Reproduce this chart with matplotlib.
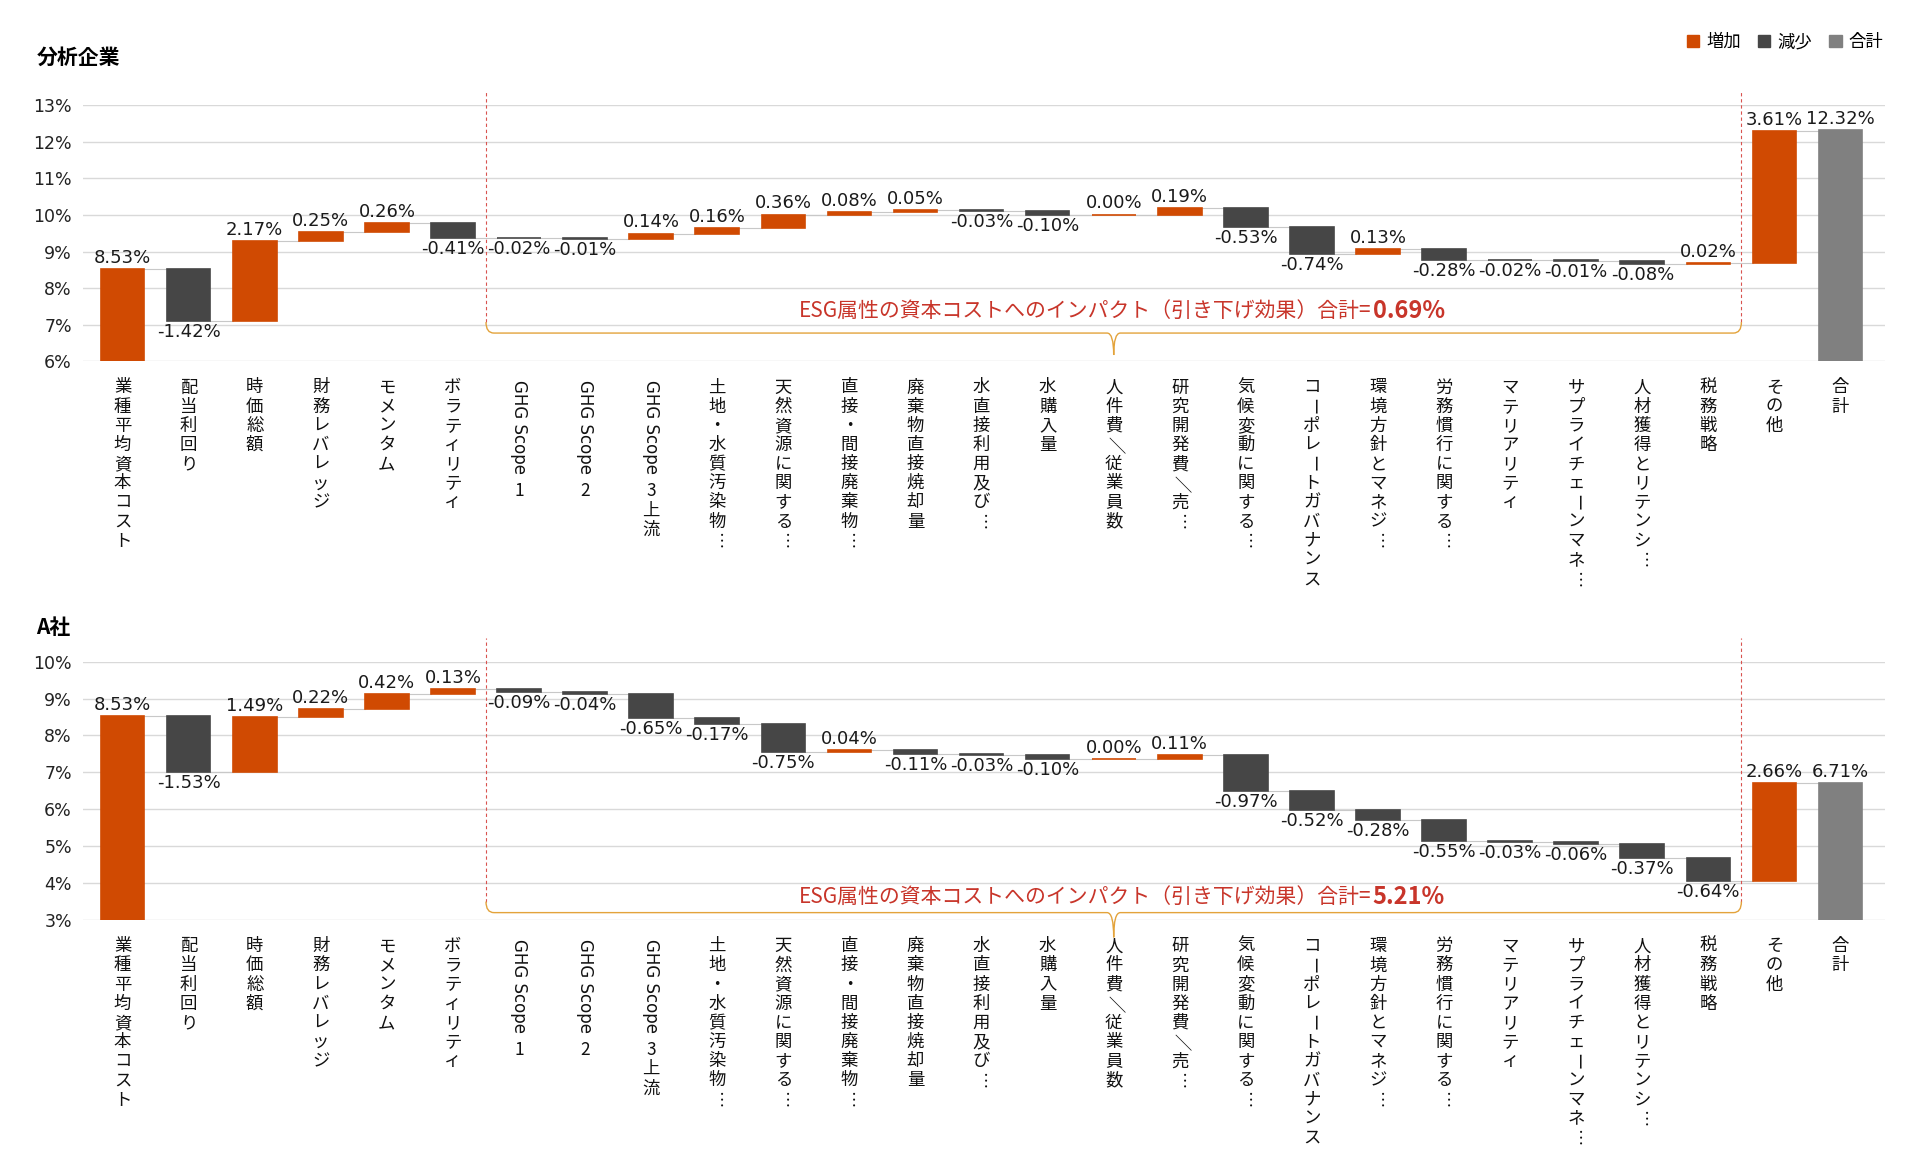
import re
import numpy as np
import matplotlib
matplotlib.use('Agg')
import matplotlib.pyplot as plt
from matplotlib.patches import Patch, PathPatch
from matplotlib.path import Path
from matplotlib.textpath import TextToPath
from matplotlib.font_manager import FontProperties

plt.rcParams['font.family'] = ['Noto Sans CJK JP', 'DejaVu Sans']
NUM_FONT = ['DejaVu Sans', 'Noto Sans CJK JP']

categories = ['業種平均資本コスト', '配当利回り', '時価総額', '財務レバレッジ', 'モメンタム',
              'ボラティリティ', 'GHG Scope 1', 'GHG Scope 2', 'GHG Scope 3上流',
              '土地・水質汚染物…', '天然資源に関する…', '直接・間接廃棄物…', '廃棄物直接焼却量',
              '水直接利用及び…', '水購入量', '人件費／従業員数', '研究開発費／売…',
              '気候変動に関する…', 'コーポレートガバナンス', '環境方針とマネジ…', '労務慣行に関する…',
              'マテリアリティ', 'サプライチェーンマネ…', '人材獲得とリテンシ…', '税務戦略',
              'その他', '合計']

# 分析企業
top_values = [8.53, -1.42, 2.17, 0.25, 0.26, -0.41, -0.02, -0.01, 0.14, 0.16, 0.36, 0.08,
              0.05, -0.03, -0.10, 0.00, 0.19, -0.53, -0.74, 0.13, -0.28, -0.02, -0.01,
              -0.08, 0.02, 3.61]
top_total = 12.32

# A社
a_values = [8.53, -1.53, 1.49, 0.22, 0.42, 0.13, -0.09, -0.04, -0.65, -0.17, -0.75, 0.04,
            -0.11, -0.03, -0.10, 0.00, 0.11, -0.97, -0.52, -0.28, -0.55, -0.03, -0.06,
            -0.37, -0.64, 2.66]
a_total = 6.71

ORANGE = '#D04A02'
DARK = '#464646'
GREY = '#808080'
RED = '#C8352A'
W = 0.66
ESG_START, ESG_END = 6, 24   # index range of ESG items

fp_latin = FontProperties(family=NUM_FONT, size=12)
t2p = TextToPath()


def vlabel(ax, x, text, fs=12.5, pitch=13.8):
    # vertical (tategaki style) label under the axis
    y = -12
    for seg in re.findall(r'[A-Za-z ]+|.', text):
        if re.match(r'[A-Za-z ]', seg):
            w = t2p.get_text_width_height_descent(seg, fp_latin, ismath=False)[0] + 3
            ax.annotate(seg, xy=(x, 0), xycoords=('data', 'axes fraction'),
                        xytext=(0, y - w / 2), textcoords='offset points',
                        rotation=270, ha='center', va='center', fontsize=12,
                        family=NUM_FONT, color='#111111', annotation_clip=False)
            y -= w
        elif seg in 'ー…／':
            ax.annotate(seg, xy=(x, 0), xycoords=('data', 'axes fraction'),
                        xytext=(0, y - pitch / 2), textcoords='offset points',
                        rotation=270, ha='center', va='center', fontsize=fs,
                        color='#111111', annotation_clip=False)
            y -= pitch
        else:
            ax.annotate(seg, xy=(x, 0), xycoords=('data', 'axes fraction'),
                        xytext=(0, y - pitch / 2), textcoords='offset points',
                        ha='center', va='center', fontsize=fs,
                        color='#111111', annotation_clip=False)
            y -= pitch


def waterfall(ax, values, total, lo, hi, bracket_y, tick_y, text_y, dash_top):
    n = len(values)
    bottoms, heights, colors, levels = [], [], [], []
    level = 0
    for i, v in enumerate(values):
        if i == 0:
            bottoms.append(0)
            heights.append(v)
            level = v
        else:
            bottoms.append(level if v >= 0 else level + v)
            heights.append(abs(v))
            level += v
        levels.append(level)
        colors.append(ORANGE if v >= 0 else DARK)
    bottoms.append(0)
    heights.append(total)
    colors.append(GREY)
    x = np.arange(n + 1)
    ax.bar(x, heights, bottom=bottoms, width=W, color=colors, edgecolor=colors,
           linewidth=1.2, zorder=3)

    # connectors
    for i in range(n):
        ax.plot([i + W / 2, i + 1 - W / 2], [levels[i], levels[i]], color='#C8C8C8',
                lw=0.8, zorder=2)

    # value labels
    for i, v in enumerate(list(values) + [total]):
        if v >= 0:
            ax.annotate(f'{v:.2f}%', (i, bottoms[i] + heights[i]), xytext=(0, 1.5),
                        textcoords='offset points', ha='center', va='bottom',
                        fontsize=13, family=NUM_FONT, color='#1a1a1a', zorder=5)
        else:
            ax.annotate(f'{v:.2f}%', (i, bottoms[i]), xytext=(0, -1.5),
                        textcoords='offset points', ha='center', va='top',
                        fontsize=13, family=NUM_FONT, color='#1a1a1a', zorder=5)

    ax.set_xlim(-0.6, n + 0.68)
    ax.set_ylim(lo, hi)
    ax.set_yticks(range(lo, hi + 1))
    ax.yaxis.set_major_formatter(lambda v, p: f'{v:.0f}%')
    ax.tick_params(axis='y', length=0, labelsize=12.5, labelcolor='#222222', pad=8)
    for lab in ax.get_yticklabels():
        lab.set_family(NUM_FONT)
    ax.set_xticks([])
    ax.grid(axis='y', color='#D9D9D9', lw=1)
    ax.set_axisbelow(True)
    for s in ax.spines.values():
        s.set_visible(False)

    for i, c in enumerate(categories):
        vlabel(ax, i, c)

    # ESG range markers
    x0, x1 = ESG_START - 0.5, ESG_END + 0.5
    xm = (x0 + x1) / 2
    y0 = bracket_y + 0.3
    for xd in (x0, x1):
        ax.plot([xd, xd], [y0, dash_top], ls=(0, (3, 2.5)), color='#D9534F', lw=0.8,
                clip_on=False, zorder=4)
    verts = [(x0, y0), (x0, bracket_y), (x0 + 0.12, bracket_y),
             (xm - 0.1, bracket_y),
             (xm, bracket_y), (xm, tick_y), (xm, bracket_y), (xm + 0.1, bracket_y),
             (x1 - 0.12, bracket_y), (x1, bracket_y), (x1, y0)]
    codes = [Path.MOVETO, Path.CURVE3, Path.CURVE3, Path.LINETO,
             Path.CURVE3, Path.CURVE3, Path.CURVE3, Path.CURVE3,
             Path.LINETO, Path.CURVE3, Path.CURVE3]
    ax.add_patch(PathPatch(Path(verts, codes), fill=False, edgecolor='#E3A33B', lw=1,
                           clip_on=False, zorder=4))

    esg = -sum(values[ESG_START:ESG_END + 1])
    split = 18.9
    ax.text(split, text_y, 'ESG属性の資本コストへのインパクト（引き下げ効果）合計=',
            ha='right', va='center', fontsize=15, color=RED, zorder=5)
    ax.text(split + 0.02, text_y, f'{esg:.2f}%', ha='left', va='center', fontsize=17,
            fontweight='bold', color=RED, zorder=5)


fig = plt.figure(figsize=(19.2, 11.69), dpi=100)
ax1 = fig.add_axes([0.0432, 0.691, 0.9388, 0.219])
ax2 = fig.add_axes([0.0432, 0.213, 0.9388, 0.221])

waterfall(ax1, top_values, top_total, 6, 13, 6.77, 6.17, 7.38, 13.37)
waterfall(ax2, a_values, a_total, 3, 10, 3.2, 2.53, 3.63, 10.63)

fig.text(0.019, 1 - 57 / 1169, '分析企業', fontsize=15, fontweight='bold', va='center')
fig.text(0.019, 1 - 627 / 1169, 'A社', fontsize=15, fontweight='bold', va='center')

handles = [Patch(color=ORANGE, label='増加'), Patch(color=DARK, label='減少'),
           Patch(color=GREY, label='合計')]
fig.legend(handles=handles, loc='upper right', bbox_to_anchor=(0.989, 0.985), ncol=3,
           frameon=False, handlelength=0.7, handleheight=0.7, columnspacing=1.0,
           handletextpad=0.4, fontsize=12.5)

fig.savefig('out.png', dpi=100)
